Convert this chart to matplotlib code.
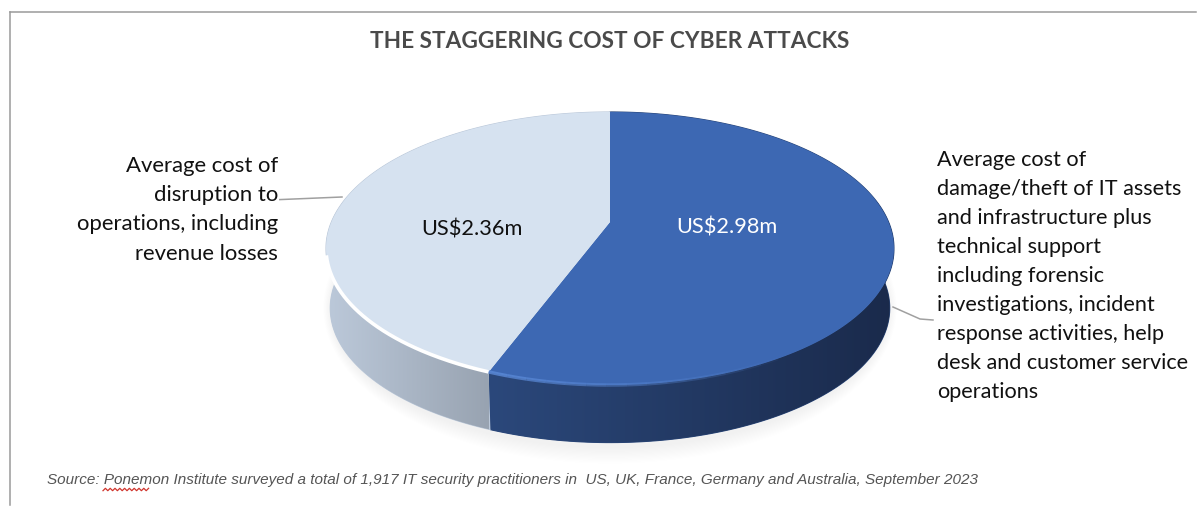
import numpy as np
import matplotlib
matplotlib.use('Agg')
import matplotlib.pyplot as plt
from matplotlib.colors import LinearSegmentedColormap
from matplotlib.patches import Polygon, Ellipse

# values of the two slices, clockwise from the top
slice_labels = ['US$2.98m', 'US$2.36m']
slice_values = [2.98, 2.36]
top_colors = ['#3d68b3', '#d6e2f0']
side_colors = [['#2b487b', '#1a2a4b'], ['#bcc9da', '#98a3b1']]

title = 'THE STAGGERING COST OF CYBER ATTACKS'
left_lines = ['Average cost of', 'disruption to', 'operations, including', 'revenue losses']
right_lines = ['Average cost of', 'damage/theft of IT assets', 'and infrastructure plus',
               'technical support', 'including forensic', 'investigations, incident',
               'response activities, help', 'desk and customer service', 'operations']
source = ('Source: Ponemon Institute surveyed a total of 1,917 IT security practitioners in  '
          'US, UK, France, Germany and Australia, September 2023')

W, H = 1203, 507
fig = plt.figure(figsize=(W/100, H/100), dpi=100)
ax = fig.add_axes([0, 0, 1, 1])

# pie in perspective, from the flat circle to pixels
CX, CY, A, B, K = 610, 222, 278.6, 131.4, 0.194
DEPTH, SHRINK = 60, 0.985


def project(deg, r=1.0, dy=0.0, s=1.0):
    t = np.radians(deg)
    u = r*np.sin(t)
    v = -r*np.cos(t)
    d = 1 - K*v
    return CX + s*A*u/d, CY + dy + s*B*v/d


def arc(a0, a1, **kw):
    deg = np.linspace(a0, a1, 200)
    x, y = project(deg, **kw)
    return np.column_stack([x, y])


# soft shadow under the pie
for i in range(14):
    ax.add_patch(Ellipse((CX, CY + DEPTH + 26), 2*(A + 8 - i*0.6), 2*(B + 24 - i*1.2),
                         fc='#808080', ec='none', alpha=0.008, zorder=1))

total = sum(slice_values)
angles = np.concatenate([[0], np.cumsum(slice_values)/total*360])

# side walls
for i in range(2):
    top = arc(angles[i], angles[i+1])
    bot = arc(angles[i], angles[i+1], dy=DEPTH, s=SHRINK)
    pts = np.vstack([top, bot[::-1]])
    # flat base first so no seam shows between the two walls
    ax.add_patch(Polygon(pts, closed=True, fc=side_colors[i][0], ec=side_colors[i][0],
                         lw=0.8, zorder=2))
    wall = Polygon(pts, closed=True, fc='none', ec='none', zorder=2)
    ax.add_patch(wall)
    cmap = LinearSegmentedColormap.from_list('w%d' % i, side_colors[i])
    vis = top[:, 1] > CY
    x0, x1 = top[vis, 0].min(), top[vis, 0].max()
    im = ax.imshow(np.linspace(0, 1, 256).reshape(1, -1), cmap=cmap, aspect='auto',
                   extent=[x0, x1, 460, 200], zorder=2.1)
    im.set_clip_path(wall)

# top faces
for i in range(2):
    pts = np.vstack([[project(0, r=0)], arc(angles[i], angles[i+1])])
    ax.add_patch(Polygon(pts, closed=True, fc=top_colors[i], ec='none', zorder=3))

# highlight along the rim
rim = arc(angles[1], 256)
ax.plot(rim[:, 0], rim[:, 1], color='white', lw=2.6, zorder=4, solid_capstyle='butt')
for k, a in enumerate(np.linspace(angles[1], 150, 16)[:-1]):
    seg = arc(a, a - (angles[1] - 150)/15)
    ax.plot(seg[:, 0], seg[:, 1], color='#5b8ad8', lw=2.5, alpha=0.8*(1 - k/15), zorder=4,
            solid_capstyle='butt')

# value labels
ax.text(727, 228, slice_labels[0], color='white', fontsize=15.7, family='Lato',
        ha='center', va='center', zorder=5)
ax.text(472, 230, slice_labels[1], color='#111111', fontsize=15.7, family='Lato',
        ha='center', va='center', zorder=5)

# leader lines
ax.plot([270, 342], [200, 197], color='#a0a0a0', lw=1.1, zorder=1.5)
ax.plot([893, 920, 933], [307, 319, 320], color='#a0a0a0', lw=1.1, zorder=1.5)

for i, s in enumerate(left_lines):
    ax.text(278, 166 + 29.2*i, s, fontsize=15.9, family='Lato', color='#111111',
            ha='right', va='center', zorder=5,
            bbox=dict(fc='white', ec='none', pad=0.5) if i == 1 else None)
for i, s in enumerate(right_lines):
    ax.text(937, 160 + 29*i, s, fontsize=15.6, family='Lato', color='#111111',
            ha='left', va='center', zorder=5)

ax.text(609.5, 41.5, title, fontsize=16.3, family='Lato', weight='bold', color='#4a4a4a',
        ha='center', va='center', zorder=5)
ax.text(47, 480, source, fontsize=11.03, family='Liberation Sans', style='italic', color='#555555',
        ha='left', va='center', zorder=5)

# spell check squiggle under Ponemon
sx = np.arange(103, 151, 2.4)
sy = 489.5 + 1.2*(-1.0)**np.arange(len(sx))
ax.plot(sx, sy, color='#d0342c', lw=0.9, zorder=5)

# frame
ax.plot([10, 1196], [12, 12], color='#9a9a9a', lw=1.1, zorder=1)
ax.plot([10, 10], [12, 505], color='#9a9a9a', lw=1.1, zorder=1)

ax.set_xlim(0, W)
ax.set_ylim(H, 0)
ax.axis('off')
fig.savefig('out.png', dpi=100)
